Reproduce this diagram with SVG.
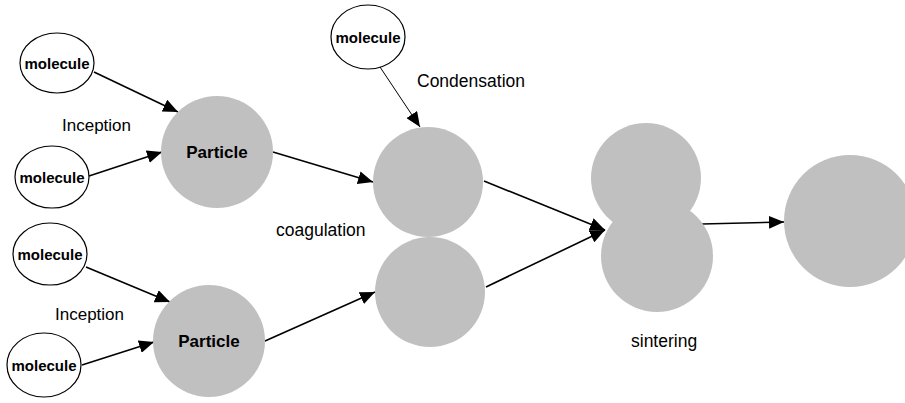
<svg xmlns="http://www.w3.org/2000/svg" width="905" height="403" viewBox="0 0 905 403">
  <defs>
    <marker id="arrow" markerUnits="userSpaceOnUse" markerWidth="16" markerHeight="13" refX="15" refY="6.5" orient="auto">
      <path d="M0,0 L15,6.5 L0,13 z" fill="#000"/>
    </marker>
    <style>
      .mol { fill: #fff; stroke: #000; stroke-width: 1.2; }
      .mol-text { font-family: "Liberation Sans", Arial, sans-serif; font-weight: bold; font-size: 15px; text-anchor: middle; dominant-baseline: central; fill: #000; }
      .part { fill: #c0c0c0; }
      .part-text { font-family: "Liberation Sans", Arial, sans-serif; font-weight: bold; font-size: 17px; text-anchor: middle; dominant-baseline: central; fill: #000; }
      .label { font-family: "Liberation Sans", Arial, sans-serif; font-size: 17.5px; fill: #000; }
      .edge { stroke: #000; stroke-width: 1.6; fill: none; marker-end: url(#arrow); }
      .edge-thin { stroke: #000; stroke-width: 1; fill: none; marker-end: url(#arrow); }
    </style>
  </defs>
  <rect width="905" height="403" fill="#fff"/>

  <!-- connectors -->
  <g id="connectors">
    <line class="edge" x1="94" y1="72" x2="178" y2="112"/>
    <line class="edge" x1="89" y1="176" x2="162" y2="152"/>
    <line class="edge" x1="86" y1="267" x2="170" y2="302"/>
    <line class="edge" x1="82" y1="365" x2="154" y2="342"/>
    <line class="edge-thin" x1="380" y1="67" x2="420" y2="127"/>
    <line class="edge" x1="273" y1="152" x2="373" y2="182"/>
    <line class="edge" x1="265" y1="341" x2="375" y2="292"/>
    <line class="edge" x1="484" y1="181" x2="605" y2="230"/>
    <line class="edge" x1="486" y1="287" x2="605" y2="230"/>
    <line class="edge" x1="702" y1="224" x2="784" y2="222"/>
  </g>

  <!-- inception, upper branch -->
  <g id="molecule-1">
    <ellipse class="mol" cx="57" cy="63" rx="37" ry="30"/>
    <text class="mol-text" x="57" y="63">molecule</text>
  </g>
  <g id="molecule-2">
    <ellipse class="mol" cx="52" cy="177" rx="37" ry="31"/>
    <text class="mol-text" x="52" y="177">molecule</text>
  </g>
  <g id="particle-1">
    <circle class="part" cx="217" cy="152" r="56"/>
    <text class="part-text" x="217" y="152">Particle</text>
  </g>

  <!-- inception, lower branch -->
  <g id="molecule-3">
    <ellipse class="mol" cx="50" cy="254" rx="37" ry="31"/>
    <text class="mol-text" x="50" y="254">molecule</text>
  </g>
  <g id="molecule-4">
    <ellipse class="mol" cx="44" cy="365" rx="37" ry="32"/>
    <text class="mol-text" x="44" y="365">molecule</text>
  </g>
  <g id="particle-2">
    <circle class="part" cx="209" cy="341" r="56"/>
    <text class="part-text" x="209" y="341">Particle</text>
  </g>

  <!-- condensation -->
  <g id="molecule-5">
    <ellipse class="mol" cx="368" cy="37" rx="37" ry="32"/>
    <text class="mol-text" x="368" y="37">molecule</text>
  </g>

  <!-- coagulating pair -->
  <g id="particle-3">
    <circle class="part" cx="428" cy="182" r="55"/>
  </g>
  <g id="particle-4">
    <circle class="part" cx="430" cy="292" r="55"/>
  </g>

  <!-- sintering pair -->
  <g id="aggregate">
    <circle class="part" cx="646" cy="178" r="55"/>
    <circle class="part" cx="657" cy="256" r="56"/>
  </g>

  <!-- sintered particle -->
  <g id="particle-5">
    <circle class="part" cx="850" cy="221" r="66"/>
  </g>

  <!-- process labels -->
  <g id="labels">
    <text class="label" x="62" y="131" style="font-size:17px">Inception</text>
    <text class="label" x="55" y="320" style="font-size:17px">Inception</text>
    <text class="label" x="417" y="87">Condensation</text>
    <text class="label" x="276" y="236">coagulation</text>
    <text class="label" x="631" y="347">sintering</text>
  </g>
</svg>
